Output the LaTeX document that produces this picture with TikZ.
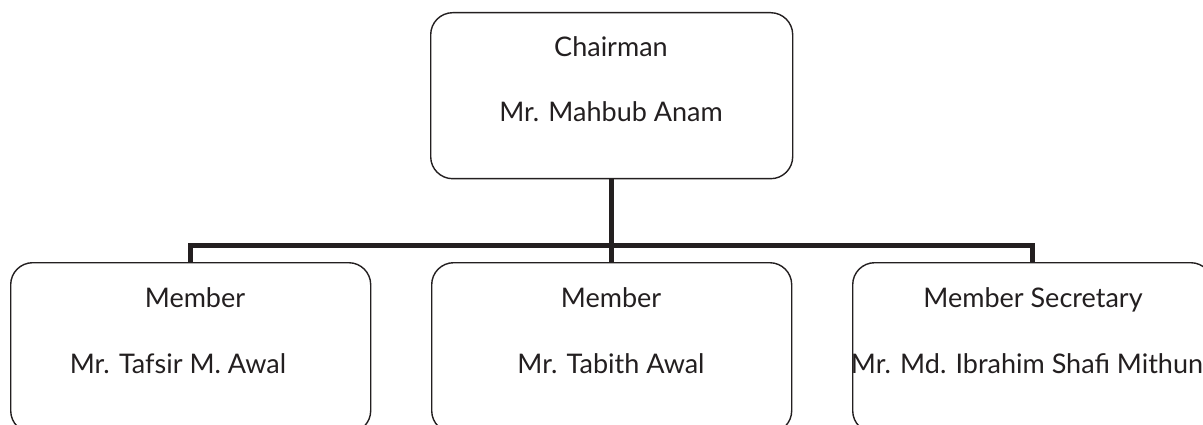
\documentclass[tikz,border=0pt]{standalone}
\usepackage{fontspec}
\setmainfont{Lato}
\definecolor{ink}{HTML}{231F20}
\begin{document}
\begin{tikzpicture}[x=1pt,y=-1pt,
  box/.style={draw=ink,line width=1.4pt,rounded corners=22pt,inner sep=0pt,anchor=north west},
  conn/.style={draw=ink,line width=5pt},
  lbl/.style={text=ink,anchor=base,inner sep=0pt,font=\fontsize{27}{31}\selectfont}]
\useasboundingbox (0,0) rectangle (1203,425);
\node[box,minimum width=362pt,minimum height=166pt] (top) at (430,12) {};
\node[box,minimum width=360pt,minimum height=170pt] (left) at (10,262) {};
\node[box,minimum width=360pt,minimum height=170pt] (mid) at (431,262) {};
\node[box,minimum width=360pt,minimum height=170pt] (right) at (852,262) {};
\node[lbl] (t1) at (611,57) {Chairman};
\node[lbl] (t2) at (611,122) {Mr. Mahbub Anam};
\node[lbl] (l1) at (195,307) {Member};
\node[lbl] (l2) at (178,373) {Mr. Tafsir M. Awal};
\node[lbl] (m1) at (611,307) {Member};
\node[lbl] (m2) at (611,373) {Mr. Tabith Awal};
\node[lbl] (r1) at (1033,307) {Member Secretary};
\node[lbl] (r2) at (1027,373) {Mr. Md. Ibrahim Shafi Mithun};
\coordinate (bar) at (611,245);
\draw[conn] (top.south) -- (top.south |- mid.north);
\draw[conn] (left.north) |- (bar) -| (right.north);
\end{tikzpicture}
\end{document}
